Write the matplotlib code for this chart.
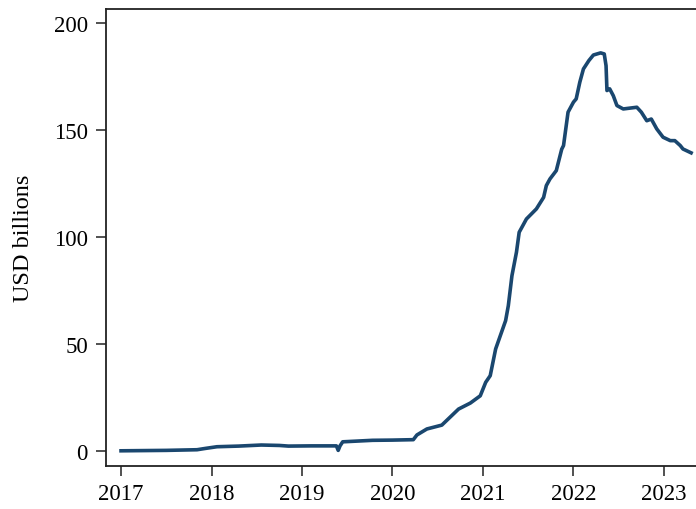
import matplotlib
matplotlib.use("Agg")
import matplotlib.pyplot as plt

# Decimal years and values (USD billions)
years = [2017.00, 2017.50, 2017.84, 2017.93, 2018.06, 2018.30, 2018.55, 2018.75, 2018.85,
         2019.10, 2019.38, 2019.40, 2019.42, 2019.45, 2019.78, 2020.00, 2020.23, 2020.27,
         2020.38, 2020.545, 2020.73, 2020.86, 2020.97, 2021.03, 2021.08, 2021.14, 2021.25,
         2021.28, 2021.32, 2021.37, 2021.40, 2021.48, 2021.59, 2021.67, 2021.70, 2021.74,
         2021.81, 2021.87, 2021.89, 2021.94, 2022.00, 2022.03, 2022.07, 2022.11, 2022.17,
         2022.22, 2022.30, 2022.34, 2022.36, 2022.37, 2022.40, 2022.44, 2022.48, 2022.55,
         2022.70, 2022.75, 2022.81, 2022.86, 2022.92, 2022.99, 2023.07, 2023.12, 2023.18,
         2023.21, 2023.30]
values = [0.1, 0.3, 0.6, 1.2, 2.0, 2.3, 2.8, 2.6, 2.3,
          2.4, 2.4, 0.3, 2.4, 4.3, 5.0, 5.1, 5.3, 7.5,
          10.3, 12.1, 19.6, 22.4, 25.8, 32.1, 35.2, 47.7, 60.9,
          67.9, 81.9, 92.9, 102.2, 108.4, 113.1, 118.5, 124.0, 127.1,
          131.0, 141.0, 142.7, 158.3, 163.0, 164.5, 172.3, 178.5, 182.4,
          185.0, 186.0, 185.5, 180.0, 168.4, 169.2, 166.0, 161.4, 159.8,
          160.6, 158.3, 154.3, 155.1, 150.5, 146.6, 145.0, 145.0, 142.7,
          141.1, 139.3]

x_ticks = [2017, 2018, 2019, 2020, 2021, 2022, 2023]
y_ticks = [0, 50, 100, 150, 200]
y_label = "USD billions"

plt.rcParams['font.family'] = ['Liberation Serif', 'DejaVu Serif']

fig = plt.figure(figsize=(6.96, 5.10), dpi=100)
ax = fig.add_axes([106/696, 1 - 467/510, 1 - 106/696, (467 - 10)/510])

ax.plot(years, values, color='#1a476f', linewidth=2.6, solid_joinstyle='round')

ax.set_xlim(2016.834, 2023.354)
ax.set_ylim(-7, 206.5)
ax.set_xticks(x_ticks)
ax.set_xticklabels([str(t) for t in x_ticks])
ax.set_yticks(y_ticks)
ax.set_yticklabels([str(t) for t in y_ticks])
ax.set_ylabel(y_label, fontsize=17.5, labelpad=14)

ax.tick_params(axis='both', direction='out', length=7.5, width=1.1, labelsize=16.5,
               color='#222222')
ax.tick_params(axis='y', pad=5.5)
ax.tick_params(axis='x', pad=5)
for s in ['left', 'bottom', 'top']:
    ax.spines[s].set_linewidth(1.3)
    ax.spines[s].set_color('#222222')
ax.spines['right'].set_visible(False)

fig.savefig('out.png', dpi=100)
